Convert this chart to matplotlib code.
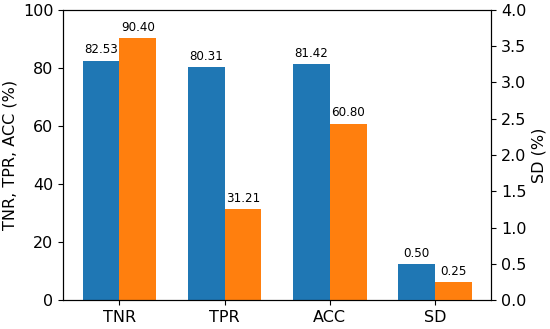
import matplotlib
matplotlib.use("Agg")
import matplotlib.pyplot as plt
import numpy as np

categories = ["TNR", "TPR", "ACC", "SD"]
blue_vals = [82.53, 80.31, 81.42]
orange_vals = [90.40, 31.21, 60.80]
blue_sd = [0.50]
orange_sd = [0.25]

fig = plt.figure(figsize=(5.5, 3.29), dpi=100)
ax = fig.add_axes([0.115, 0.088, 0.778, 0.882])
ax2 = ax.twinx()
w = 0.35
x = np.arange(len(categories))

b1 = ax.bar(x[:3] - w/2, blue_vals, w, color="#1f77b4")
b2 = ax.bar(x[:3] + w/2, orange_vals, w, color="#ff7f0e")
b3 = ax2.bar(x[3:] - w/2, blue_sd, w, color="#1f77b4")
b4 = ax2.bar(x[3:] + w/2, orange_sd, w, color="#ff7f0e")

lfs = 8.6
ax.bar_label(b1, labels=[f"{v:.2f}" for v in blue_vals], padding=3, fontsize=lfs)
ax.bar_label(b2, labels=[f"{v:.2f}" for v in orange_vals], padding=3, fontsize=lfs)
ax2.bar_label(b3, labels=[f"{v:.2f}" for v in blue_sd], padding=3, fontsize=lfs)
ax2.bar_label(b4, labels=[f"{v:.2f}" for v in orange_sd], padding=3, fontsize=lfs)

ax.set_ylim(0, 100)
ax2.set_ylim(0, 4.0)
ax2.set_yticks(np.arange(0, 4.01, 0.5))
ax.set_xticks(x)
ax.set_xticklabels(categories)
fs = 11.5
ax.tick_params(labelsize=fs)
ax2.tick_params(labelsize=fs)
ax.set_ylabel("TNR, TPR, ACC (%)", fontsize=fs)
ax2.set_ylabel("SD (%)", fontsize=fs)

fig.savefig("out.png", dpi=100)
